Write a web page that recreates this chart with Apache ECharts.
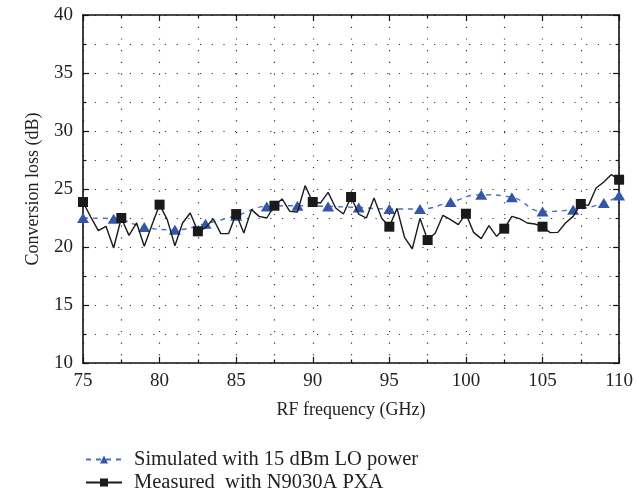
<!DOCTYPE html>
<html>
<head>
<meta charset="utf-8">
<script src="https://cdn.jsdelivr.net/npm/echarts@6/dist/echarts.min.js"></script>
<style>
  html, body { margin: 0; padding: 0; background: #fff; }
  #main { width: 636px; height: 496px; }
</style>
</head>
<body>
<div id="main"></div>
<script>
    // simulated conversion loss, 15 dBm LO (GHz, dB)
    var simFreq = [75, 77, 79, 81, 83, 85, 87, 89, 91, 93, 95, 97, 99, 101, 103, 105, 107, 109, 110];
    var simLoss = [22.5, 22.44, 21.72, 21.49, 22.01, 22.7, 23.5, 23.56, 23.5, 23.4, 23.28, 23.28, 23.88, 24.51, 24.28, 23.07, 23.22, 23.79, 24.45];

    // measured with N9030A PXA
    var measFreq = [75, 75.5, 76, 76.5, 77, 77.5, 78, 78.5, 79, 79.5, 80, 80.5, 81, 81.5, 82, 82.5, 83, 83.5, 84, 84.5,
        85, 85.5, 86, 86.5, 87, 87.5, 88, 88.5, 89, 89.5, 90, 90.5, 91, 91.5, 92, 92.5, 93, 93.5, 94, 94.5,
        95, 95.5, 96, 96.5, 97, 97.5, 98, 98.5, 99, 99.5, 100, 100.5, 101, 101.5, 102, 102.5, 103, 103.5, 104, 104.5,
        105, 105.5, 106, 106.5, 107, 107.5, 108, 108.5, 109, 109.5, 110];
    var measLoss = [23.88, 22.6, 21.41, 21.78, 19.91, 22.5, 21.0, 22.07, 20.06, 21.9, 23.65, 22.36, 20.11, 22.07, 22.93, 21.35, 21.65, 22.44, 21.15, 21.15,
        22.84, 21.21, 23.22, 22.64, 22.5, 23.56, 24.14, 23.07, 23.02, 25.29, 23.88, 23.79, 24.71, 23.36, 22.84, 24.31, 22.84, 22.5, 24.22, 22.47,
        21.75, 23.33, 20.8, 19.85, 22.47, 20.6, 21.21, 22.73, 22.36, 21.93, 22.87, 21.26, 20.72, 21.84, 20.92, 21.58, 22.64, 22.44, 22.07, 21.98,
        21.75, 21.24, 21.26, 22.07, 22.64, 23.71, 23.59, 25.09, 25.6, 26.24, 25.8];
    // square markers only on these frequencies
    var measMarked = [75, 77.5, 80, 82.5, 85, 87.5, 90, 92.5, 95, 97.5, 100, 102.5, 105, 107.5, 110];

    var xTicks = [75, 80, 85, 90, 95, 100, 105, 110];
    var yTicks = [10, 15, 20, 25, 30, 35, 40];

    var simName = 'Simulated with 15 dBm LO power';
    var measName = 'Measured  with N9030A PXA';

    var FONT = 'Liberation Serif';
    var dotted = { color: '#333', width: 1.2, type: [1.2, 10.5] };

    var simData = simFreq.map(function(f, i) { return [f, simLoss[i]]; });
    var measData = measFreq.map(function(f, i) {
        var item = { value: [f, measLoss[i]] };
        if (measMarked.indexOf(f) < 0) item.symbol = 'none';
        return item;
    });

    function axisBase(pos, labels) {
        return {
            type: 'value',
            position: pos,
            axisLine: { show: true, onZero: false, lineStyle: { color: '#111', width: 1.6 } },
            axisTick: { show: true, inside: true, length: 6, lineStyle: { color: '#111', width: 1.2 } },
            minorTick: { show: true, splitNumber: 2, length: 3.5, lineStyle: { color: '#111', width: 1.2 } },
            axisLabel: { show: labels, color: '#222', fontFamily: FONT, fontSize: 19 },
            splitLine: { show: false },
            minorSplitLine: { show: false }
        };
    }

    var xBottom = axisBase('bottom', true);
    xBottom.min = xTicks[0]; xBottom.max = xTicks[xTicks.length - 1]; xBottom.interval = 5;
    xBottom.splitLine = { show: true, lineStyle: dotted };
    xBottom.minorSplitLine = { show: true, lineStyle: dotted };
    xBottom.axisLabel.margin = 9;
    xBottom.name = 'RF frequency (GHz)';
    xBottom.nameLocation = 'middle';
    xBottom.nameGap = 38;
    xBottom.nameTextStyle = { color: '#222', fontFamily: FONT, fontSize: 18 };

    var xTop = axisBase('top', false);
    xTop.min = xTicks[0]; xTop.max = xTicks[xTicks.length - 1]; xTop.interval = 5;

    var yLeft = axisBase('left', true);
    yLeft.min = yTicks[0]; yLeft.max = yTicks[yTicks.length - 1]; yLeft.interval = 5;
    yLeft.splitLine = { show: true, lineStyle: dotted };
    yLeft.minorSplitLine = { show: true, lineStyle: dotted };
    yLeft.axisLabel.margin = 10;
    yLeft.name = 'Conversion loss (dB)';
    yLeft.nameLocation = 'middle';
    yLeft.nameGap = 41;
    yLeft.nameTextStyle = { color: '#222', fontFamily: FONT, fontSize: 18 };

    var yRight = axisBase('right', false);
    yRight.min = yTicks[0]; yRight.max = yTicks[yTicks.length - 1]; yRight.interval = 5;

    var legendText = { color: '#222', fontFamily: FONT, fontSize: 20.5, padding: [0, 0, 0, 7] };

    var myChart = echarts.init(document.getElementById('main'), null, { renderer: 'canvas' });

    var option = {
        animation: false,
        backgroundColor: '#fff',
        grid: { left: 83, right: 15, top: 15, bottom: 133 },
        legend: [{
                left: 80, top: 444,
                itemWidth: 36, itemHeight: 10,
                textStyle: legendText,
                data: [simName]
            },
            {
                left: 80, top: 467,
                itemWidth: 36, itemHeight: 10,
                textStyle: legendText,
                data: [measName]
            }
        ],
        xAxis: [xBottom, xTop],
        yAxis: [yLeft, yRight],
        series: [{
                name: simName,
                type: 'line',
                smooth: 0.5,
                data: simData,
                symbol: 'triangle',
                symbolSize: [12, 10],
                itemStyle: { color: '#3456a8' },
                lineStyle: { color: '#4b6fc2', width: 1.4, type: [5, 5] },
                z: 3
            },
            {
                name: measName,
                type: 'line',
                data: measData,
                symbol: 'rect',
                symbolSize: 10,
                itemStyle: { color: '#1a1a1a' },
                lineStyle: { color: '#1a1a1a', width: 1.4 },
                z: 4
            }
        ]
    };
    myChart.setOption(option);

    window.addEventListener('resize', function() {
        myChart.resize();
    });
</script>
</body>
</html>
